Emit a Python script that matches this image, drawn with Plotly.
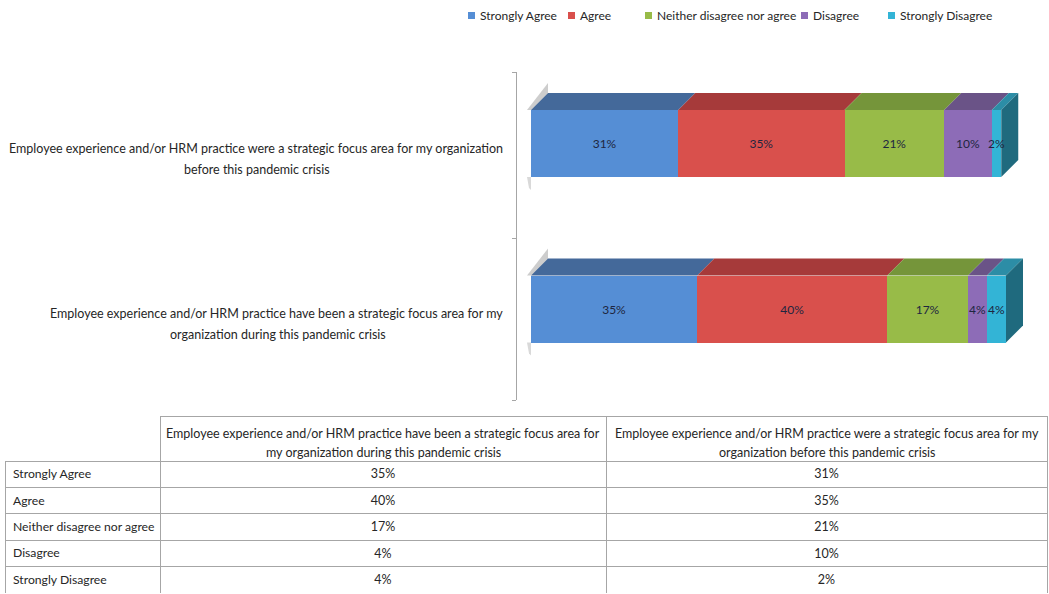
import plotly.graph_objects as go

# ---- data -------------------------------------------------------------
responses = ["Strongly Agree", "Agree", "Neither disagree nor agree",
             "Disagree", "Strongly Disagree"]

# statement text, as printed line by line beside the bars
statement_during = ("Employee experience and/or HRM practice have been a strategic focus area for my",
                    "organization during this pandemic crisis")
statement_before = ("Employee experience and/or HRM practice were a strategic focus area for my organization",
                    "before this pandemic crisis")

# same statements as the table column headings
header_during = ("Employee experience and/or HRM practice have been a strategic focus area for",
                 "my organization during this pandemic crisis")
header_before = ("Employee experience and/or HRM practice were a strategic focus area for my",
                 "organization before this pandemic crisis")

during_pct = [35, 40, 17, 4, 4]
before_pct = [31, 35, 21, 10, 2]

# ---- styling ----------------------------------------------------------
front_colors = ["#558ED5", "#D9504C", "#98BB48", "#8D6CB7", "#33B4D6"]
top_colors = ["#44699A", "#A63A3A", "#75953A", "#6A5387", "#2C8DA6"]
side_color = "#1F6A7E"
FONT = "Lato"
FS = 12.5
TEXT = "#262626"
GRID = "#A6A6A6"

W, H = 1049, 594
# pixel layout of the bar panel
X_ZERO_PX, PX_PER_PCT = 531, 4.75
Y_TOP_PX, Y_BOT_PX = 72, 400
ROW_PX = 165.5           # distance between the two bar rows
ROW1_CENTER_PX = 143.5   # centre of the front face of the upper bar
BAR_H = 67 / ROW_PX
DEPTH_X = 17 / PX_PER_PCT
DEPTH_Y = 17 / ROW_PX
LABEL_RIGHT_PX = 505
LINE_GAP_PX = 21

x_left_px, x_right_px = 517, 1030
x_range = [(x_left_px - X_ZERO_PX) / PX_PER_PCT, (x_right_px - X_ZERO_PX) / PX_PER_PCT]
y_range = [1 - (Y_BOT_PX - ROW1_CENTER_PX) / ROW_PX, 1 + (ROW1_CENTER_PX - Y_TOP_PX) / ROW_PX]
y_boundaries = [y_range[1], 1 - (238 - ROW1_CENTER_PX) / ROW_PX, y_range[0]]

# (row position, values, label lines, horizontal centre of the label block in px)
rows = [(0, during_pct, statement_during, 278),
        (1, before_pct, statement_before, 257)]

fig = go.Figure()

# front faces of the stacked bars
for i, name in enumerate(responses):
    fig.add_trace(go.Bar(
        y=[r[0] for r in rows],
        x=[r[1][i] for r in rows],
        orientation="h",
        name=name,
        width=BAR_H,
        marker=dict(color=front_colors[i], line=dict(width=0)),
        texttemplate="%{x}%",
        textposition="inside",
        insidetextanchor="middle",
        textangle=0,
        constraintext="none",
        textfont=dict(family=FONT, size=12, color="#1E2640"),
        hoverinfo="skip",
        showlegend=False,
    ))

shapes = []
for yv, vals, _, _ in rows:
    y_top = yv + BAR_H / 2
    y_bot = yv - BAR_H / 2
    cum = 0
    for i, v in enumerate(vals):
        a, b = cum, cum + v
        shapes.append(dict(
            type="path", xref="x", yref="y", layer="below",
            path=(f"M {a},{y_top} L {b},{y_top} L {b + DEPTH_X},{y_top + DEPTH_Y} "
                  f"L {a + DEPTH_X},{y_top + DEPTH_Y} Z"),
            fillcolor=top_colors[i], line=dict(width=0),
        ))
        cum = b
    # right-hand end face
    shapes.append(dict(
        type="path", xref="x", yref="y", layer="below",
        path=(f"M {cum},{y_bot} L {cum},{y_top} L {cum + DEPTH_X},{y_top + DEPTH_Y} "
              f"L {cum + DEPTH_X},{y_bot + DEPTH_Y} Z"),
        fillcolor=side_color, line=dict(width=0),
    ))
    # soft shadow along the left end of the box
    s = 4 / PX_PER_PCT
    shapes.append(dict(
        type="path", xref="x", yref="y", layer="below",
        path=(f"M {-s},{y_top} L 0,{y_top} L {DEPTH_X},{y_top + DEPTH_Y} "
              f"L {DEPTH_X},{y_top + DEPTH_Y + 10 / ROW_PX} Z"),
        fillcolor="rgba(130,130,130,0.40)", line=dict(width=0),
    ))
    shapes.append(dict(
        type="path", xref="x", yref="y", layer="below",
        path=(f"M {-s},{y_bot} L 0,{y_bot} L 0,{y_bot - 13 / ROW_PX} L {-s * 0.5},{y_bot - 11 / ROW_PX} Z"),
        fillcolor="rgba(130,130,130,0.30)", line=dict(width=0),
    ))

annotations = []
# statement labels beside the bars: first line flush right, the rest centred under it
for yv, _, lines, cx in rows:
    for k, line in enumerate(lines):
        first = k == 0
        annotations.append(dict(
            x=(LABEL_RIGHT_PX if first else cx) / W, xref="paper",
            y=yv, yref="y", yshift=-(4.5 + LINE_GAP_PX * k),
            xanchor="right" if first else "center", yanchor="middle",
            text=line, showarrow=False,
            font=dict(family=FONT, size=FS, color=TEXT),
        ))

# legend row
legend_x_px = [468, 568, 645, 801, 888]
for name, color, lx in zip(responses, front_colors, legend_x_px):
    shapes.append(dict(
        type="rect", xref="paper", yref="paper",
        x0=lx / W, x1=(lx + 7) / W, y0=1 - 19 / H, y1=1 - 12 / H,
        fillcolor=color, line=dict(width=0),
    ))
    annotations.append(dict(
        x=(lx + 10) / W, xref="paper", y=1 - 16 / H, yref="paper",
        xanchor="left", yanchor="middle", text=name, showarrow=False,
        font=dict(family=FONT, size=12, color=TEXT),
    ))

# data table under the chart
TABLE_LEFT, TABLE_RIGHT = 5, 1047
col_widths = [155, 446, 441]
HEADER_TOP, HEADER_H, ROW_H = 416, 45, 26.4
table_h = HEADER_H + ROW_H * len(responses) + 1

fig.add_trace(go.Table(
    domain=dict(x=[TABLE_LEFT / W, TABLE_RIGHT / W], y=[1 - (HEADER_TOP + table_h) / H, 1 - HEADER_TOP / H]),
    columnwidth=col_widths,
    header=dict(
        values=["", "", ""],
        height=HEADER_H,
        fill=dict(color="white"),
        line=dict(color=["rgba(0,0,0,0)", GRID, GRID], width=1),
        font=dict(family=FONT, size=FS, color=TEXT),
    ),
    cells=dict(
        values=[[r.replace(" ", "\u00a0") for r in responses],
                [f"{v}%" for v in during_pct], [f"{v}%" for v in before_pct]],
        height=ROW_H,
        align=["left", "center", "center"],
        fill=dict(color="white"),
        line=dict(color=GRID, width=1),
        font=dict(family=FONT, size=[12.2, FS, FS], color=TEXT),
    ),
))

# column headings, each printed line centred in its column
col_left = TABLE_LEFT + col_widths[0]
for lines, width in ((header_during, col_widths[1]), (header_before, col_widths[2])):
    cx = col_left + width / 2
    for k, line in enumerate(lines):
        annotations.append(dict(
            x=cx / W, xref="paper", y=1 - (433 + 19 * k) / H, yref="paper",
            xanchor="center", yanchor="middle", text=line, showarrow=False,
            font=dict(family=FONT, size=FS, color=TEXT),
        ))
    col_left += width

fig.update_layout(
    width=W, height=H,
    margin=dict(l=0, r=0, t=0, b=0),
    paper_bgcolor="white", plot_bgcolor="white",
    barmode="stack",
    uniformtext=dict(minsize=12, mode="show"),
    showlegend=False,
    shapes=shapes,
    annotations=annotations,
    xaxis=dict(domain=[x_left_px / W, x_right_px / W], range=x_range,
               visible=False, fixedrange=True),
    yaxis=dict(domain=[1 - Y_BOT_PX / H, 1 - Y_TOP_PX / H], range=y_range,
               showline=True, linecolor=GRID, linewidth=1,
               showgrid=False, zeroline=False,
               tickmode="array", tickvals=y_boundaries, showticklabels=False,
               ticks="outside", ticklen=4, tickcolor=GRID, fixedrange=True),
)

fig.write_html("out.html")
